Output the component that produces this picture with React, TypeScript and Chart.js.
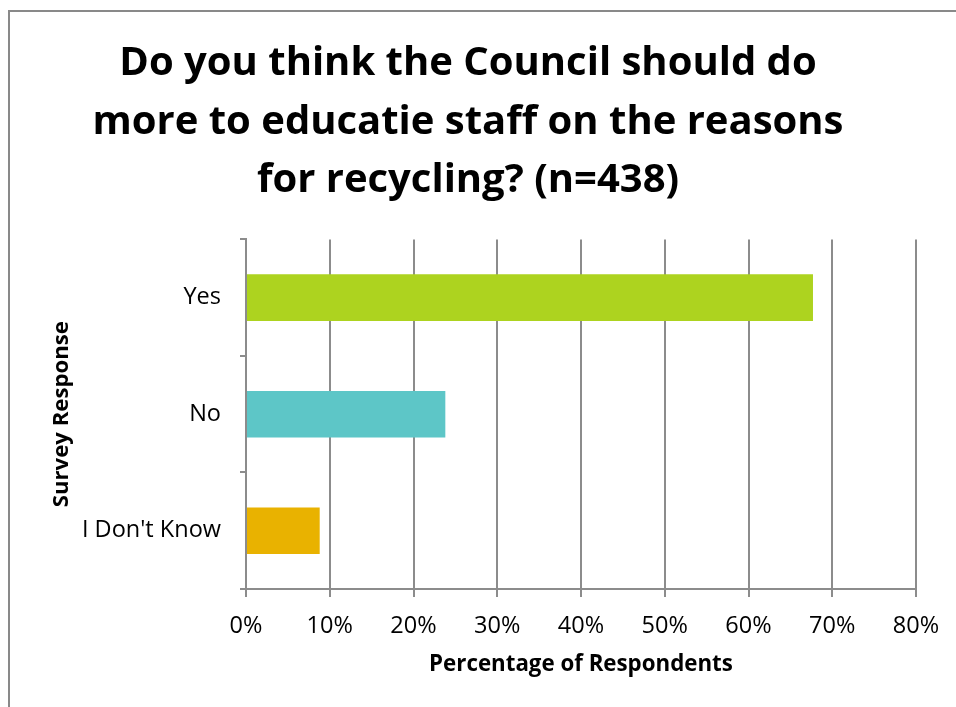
import React, { useEffect, useRef } from "react";
import { Chart, registerables } from "chart.js";

Chart.register(...registerables);

const titleLines = [
  "Do you think the Council should do",
  "more to educatie staff on the reasons",
  "for recycling? (n=438)",
];
const categories = ["Yes", "No", "I Don't Know"];
const percentages = [67.7, 23.8, 8.8];
const barColors = ["#ADD31F", "#5DC6C7", "#E9B200"];
const xTickValues = [0, 10, 20, 30, 40, 50, 60, 70, 80];
const xAxisTitle = "Percentage of Respondents";
const yAxisTitle = "Survey Response";

const FONT = "'Open Sans', 'DejaVu Sans', sans-serif";
const GRID = "#8c8c8c";

export default function App() {
  const ref = useRef<HTMLCanvasElement | null>(null);

  useEffect(() => {
    if (!ref.current) return;
    const chart = new Chart(ref.current, {
      type: "bar",
      data: {
        labels: categories,
        datasets: [
          {
            data: percentages,
            backgroundColor: barColors,
            borderWidth: 0,
            barPercentage: 0.4,
            categoryPercentage: 1,
          },
        ],
      },
      options: {
        indexAxis: "y",
        responsive: false,
        animation: false,
        devicePixelRatio: 1,
        layout: { padding: { left: 20, right: 40, top: 0, bottom: 0 } },
        plugins: {
          legend: { display: false },
          tooltip: { enabled: false },
          title: {
            display: true,
            text: titleLines,
            color: "#000",
            font: { family: FONT, size: 40, weight: "bold", lineHeight: 1.47 },
            padding: { top: 34, bottom: 29 },
          },
        },
        scales: {
          x: {
            min: 0,
            max: 80,
            afterFit: (s: any) => {
              s.height = 118;
            },
            afterBuildTicks: (s: any) => {
              s.ticks = xTickValues.map((v) => ({ value: v }));
            },
            ticks: {
              callback: (v: any) => v + "%",
              color: "#000",
              font: { family: FONT, size: 23.5 },
              padding: 15,
              maxRotation: 0,
            },
            grid: {
              color: GRID,
              lineWidth: 2,
              tickLength: 8,
              drawOnChartArea: true,
            },
            border: { color: GRID, width: 2 },
            title: {
              display: true,
              text: xAxisTitle,
              color: "#000",
              font: { family: FONT, size: 22.3, weight: "bold" },
              padding: { top: 0, bottom: 29 },
            },
          },
          y: {
            afterFit: (s: any) => {
              s.width = 226;
            },
            ticks: {
              color: "#000",
              font: { family: FONT, size: 23.5 },
              padding: 19,
            },
            grid: {
              display: true,
              drawOnChartArea: false,
              color: GRID,
              lineWidth: 2,
              tickLength: 6,
              offset: true,
            },
            border: { color: GRID, width: 2 },
            title: {
              display: true,
              text: yAxisTitle,
              color: "#000",
              font: { family: FONT, size: 22.2, weight: "bold" },
              padding: { top: 28, bottom: 0 },
            },
          },
        },
      },
    });
    return () => chart.destroy();
  }, []);

  return (
    <div
      style={{
        position: "fixed",
        left: 0,
        top: 0,
        width: 956,
        height: 707,
        overflow: "hidden",
        background: "#fff",
      }}
    >
      <canvas
        ref={ref}
        width={956}
        height={707}
        style={{ position: "absolute", left: 0, top: 0, width: 956, height: 707 }}
      />
      <div
        style={{
          position: "absolute",
          left: 8,
          top: 10,
          width: 2000,
          height: 2000,
          borderLeft: "2px solid #898989",
          borderTop: "2px solid #898989",
          pointerEvents: "none",
        }}
      />
    </div>
  );
}
